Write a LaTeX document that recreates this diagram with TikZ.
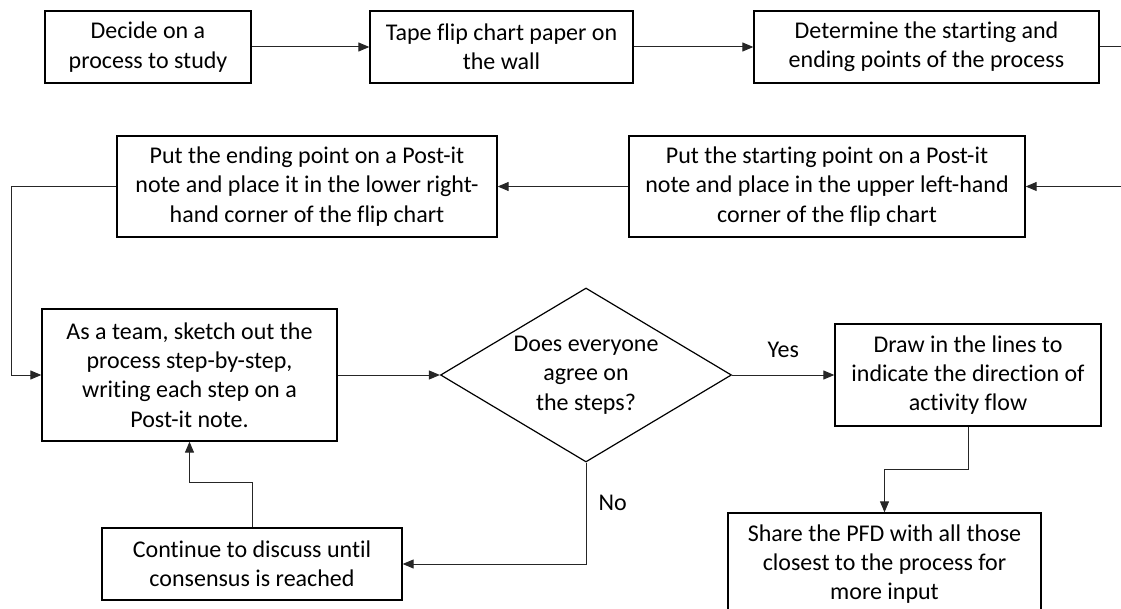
\documentclass[tikz,border=0pt]{standalone}
\usepackage{fontspec}
\setmainfont{Carlito}[RawFeature={-liga;-clig;-dlig;-calt;-hlig}]
\usetikzlibrary{arrows.meta,shapes.geometric}
\newcommand{\zk}{\kern0pt{}}
\begin{document}
\begin{tikzpicture}[x=1pt,y=-1pt,
  box/.style={draw=black,line width=1.3pt,inner sep=0pt,align=center,
    font=\fontsize{24}{29.3}\selectfont},
  dec/.style={draw=black,line width=1.2pt,shape=diamond,shape aspect=1.672,
    inner sep=0pt,minimum width=291pt,minimum height=174pt,align=center,
    font=\fontsize{24}{29.3}\selectfont},
  conn/.style={draw=black!85,line width=1pt},
  arr/.style={conn,-{Triangle[length=11pt,width=9pt]}},
  lbl/.style={font=\fontsize{24}{29.3}\selectfont,inner sep=0pt}]
\clip (0,0) rectangle (1121,609);
\useasboundingbox (0,0) rectangle (1121,609);

\node[box,minimum width=206pt,minimum height=72pt] (b1) at (148,47)
  {Decide on a\\process to study};
\node[box,minimum width=263pt,minimum height=72pt] (b2) at (501.5,47)
  {Tape f\zk lip chart paper on\\the wall};
\node[box,minimum width=345pt,minimum height=72pt] (b3) at (926.5,47)
  {Determine the start\zk ing and\\ending points of the process};
\node[box,minimum width=396pt,minimum height=101pt] (b4) at (827,186.5)
  {Put the start\zk ing point on a Post-it\\note and place in the upper left-hand\\corner of the f\zk lip chart};
\node[box,minimum width=380pt,minimum height=101pt] (b5) at (307,186.5)
  {Put the ending point on a Post-it\\note and place it in the lower right-\\hand corner of the f\zk lip chart};
\node[box,minimum width=295pt,minimum height=132pt] (b6) at (189.5,375)
  {As a team, sketch out the\\process step-by-step,\\writ\zk ing each step on a\\Post-it note.};
\node[dec] (d) at (586,375) {Does everyone\\agree on\\the steps?};
\node[box,minimum width=266pt,minimum height=102pt] (b7) at (968,375)
  {Draw in the lines to\\indicate the direct\zk ion of\\act\zk ivit\zk y f\zk low};
\node[box,minimum width=313pt,minimum height=102pt] (b8) at (884.5,564)
  {Share the PFD with all those\\closest to the process for\\more input};
\node[box,minimum width=300pt,minimum height=72pt] (b9) at (252,564)
  {Cont\zk inue to discuss until\\consensus is reached};

\coordinate (r1) at (1121,47);
\coordinate (r2) at (1121,186.5);
\coordinate (l1) at (11,186.5);

\draw[arr] (b1.east) -- (b2.west);
\draw[arr] (b2.east) -- (b3.west);
\draw[conn] (b3.east) -- (r1);
\draw[arr] (r2) -- (b4.east);
\draw[arr] (b4.west) -- (b5.east);
\draw[arr] (b5.west) -- (l1) |- (b6.west);
\draw[arr] (b6.east) -- (d.west);
\draw[arr] (d.east) -- node[lbl,above=17pt] (yes) {Yes} (b7.west);
\draw[arr] (b7.south) -- ++(0,43) -| (b8.north);
\draw[arr] (d.south) |- node[lbl,pos=0.2,right=12pt] (no) {No} (b9.east);
\draw[arr] (b9.north) -- ++(0,-45) -| (b6.south);
\end{tikzpicture}
\end{document}
